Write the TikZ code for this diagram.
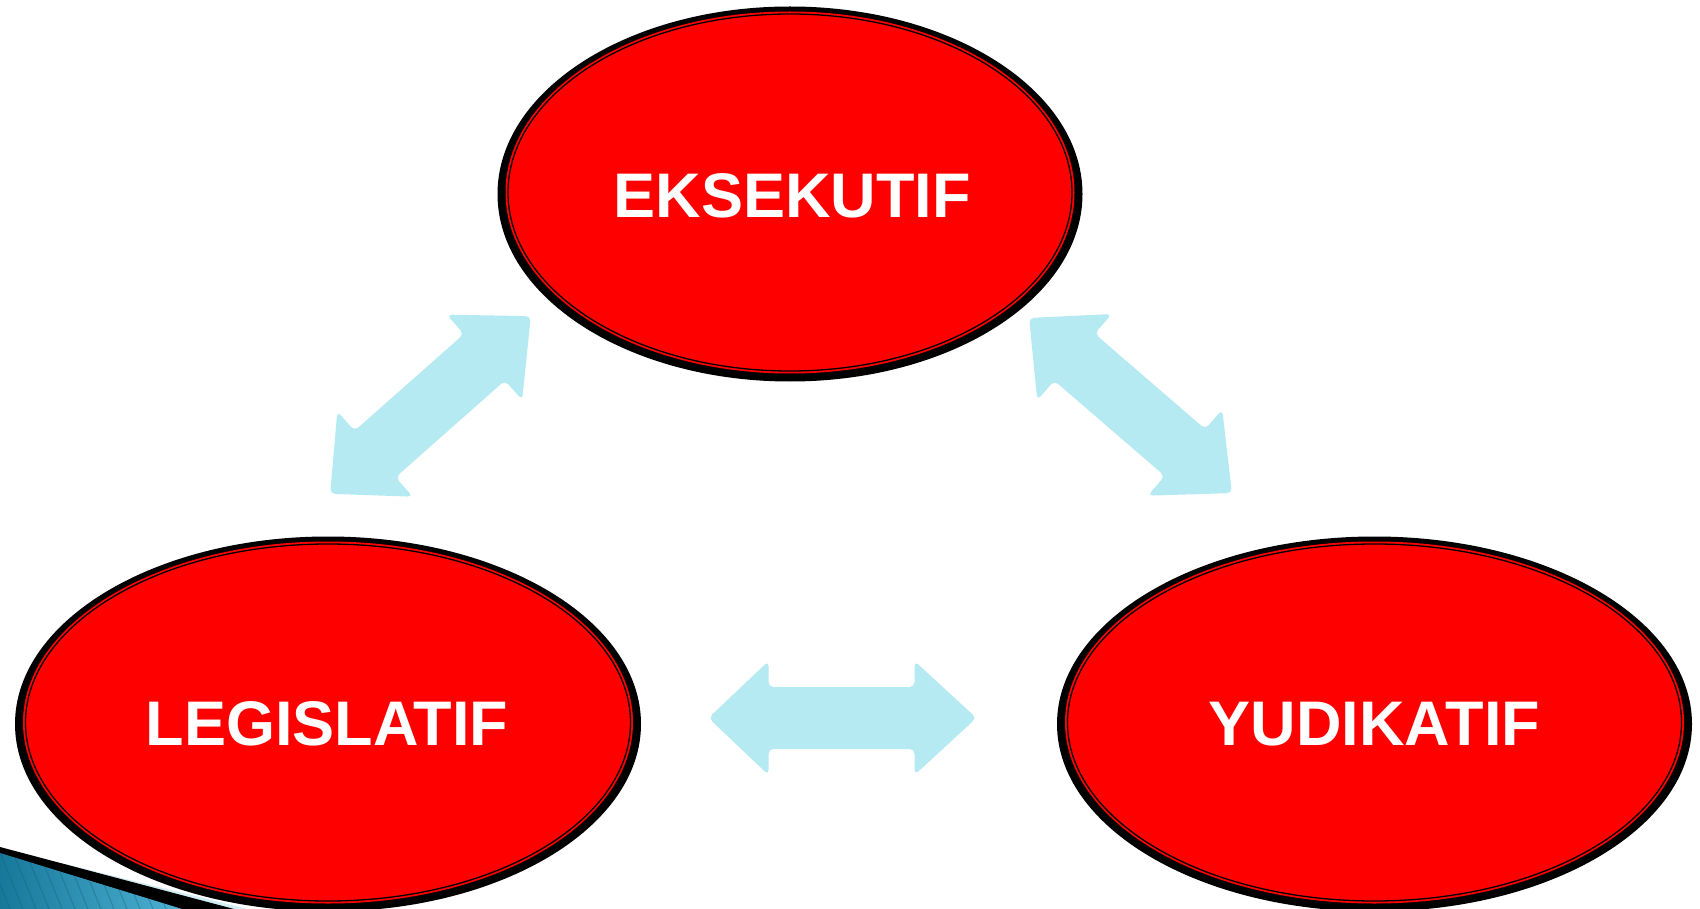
\documentclass[tikz,border=0pt]{standalone}
\usepackage{fontspec}
\setmainfont{Liberation Sans}
\usetikzlibrary{shapes.geometric}
\definecolor{ellred}{RGB}{255,0,0}
\definecolor{arrblue}{RGB}{182,234,243}
\definecolor{decodark}{RGB}{24,120,155}
\definecolor{decolight}{RGB}{80,180,215}
\definecolor{decopale}{RGB}{210,236,244}
\tikzset{
  lbl/.style={text=white, font=\fontsize{63}{63}\selectfont\bfseries, inner sep=0pt},
  blockarrow/.style={fill=arrblue, rounded corners=5pt},
}
\newcommand{\myellipse}[4]{%
  % #1 cx, #2 cy, #3 rx, #4 ry
  \fill[black] (#1,#2) ellipse [x radius=#3, y radius=#4];
  \fill[ellred] (#1,#2-1.5) ellipse [x radius=#3-8, y radius=#4-6.5];
  \draw[black, line width=1.3pt] (#1,#2-1.5) ellipse [x radius=#3-10.5, y radius=#4-9];
}
\newcommand{\dblarrow}{%
  \fill[blockarrow] (-134,0) -- (-74,57) -- (-74,31) -- (72,31) -- (72,57) -- (134,0)
    -- (72,-57) -- (72,-31) -- (-74,-31) -- (-74,-57) -- cycle;
}
\begin{document}
\begin{tikzpicture}[x=1pt,y=-1pt]
\useasboundingbox (0,0) rectangle (1700,909);

% ellipses
\myellipse{790}{194}{292.5}{187.5}
\myellipse{328}{724}{313}{187.5}
\myellipse{1374.5}{724}{317.5}{187.5}

\node[lbl] (eks) at (792,195.5) {EKSEKUTIF};
\node[lbl] (leg) at (327,724) {LEGISLATIF};
\node[lbl] (yud) at (1374.5,724) {YUDIKATIF};

% block arrows
\begin{scope}[shift={(842.5,718)}]
  \dblarrow
\end{scope}
\begin{scope}[shift={(430.5,405)}, rotate=41.5]
  \dblarrow
\end{scope}
\begin{scope}[shift={(1130.5,405.5)}, rotate=-40.8]
  \dblarrow
\end{scope}

% bottom-left corner decoration
\fill[decopale] (0,848) -- (248,909) -- (0,909) -- cycle;
\fill[black] (0,847) -- (234,909) -- (0,909) -- cycle;
\begin{scope}
  \clip (0,853) -- (182,909) -- (0,909) -- cycle;
  \shade[left color=decodark, right color=decolight] (0,845) rectangle (190,909);
  \foreach \s in {-40,-27,...,200} {
    \draw[decodark!80!black, opacity=0.35, line width=1.2pt] (\s,850) -- (\s+24,909);
  }
\end{scope}
\end{tikzpicture}
\end{document}
